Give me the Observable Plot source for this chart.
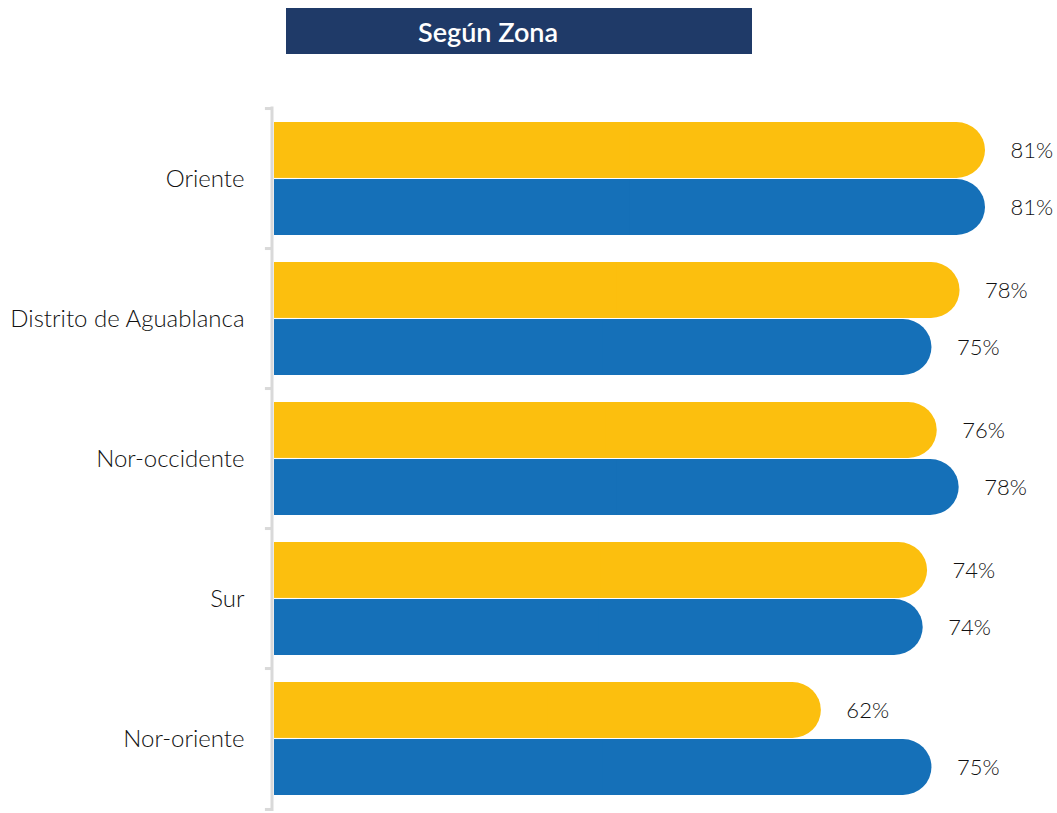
<!DOCTYPE html>
<html><head><meta charset="utf-8">
<script src="https://cdn.jsdelivr.net/npm/d3@7"></script>
<script src="https://cdn.jsdelivr.net/npm/@observablehq/plot@0.6"></script>
<style>
body{margin:0;background:#fff;font-family:Lato, sans-serif;}
#wrap{width:1057px;}
#head{position:relative;height:62px;}
#title{position:absolute;left:286px;top:8px;width:466px;height:46px;background:#1f3a68;color:#fff;font-weight:600;font-size:27px;line-height:47px;box-sizing:border-box;padding-left:132px;white-space:nowrap;}
</style></head><body><div id="wrap"><div id="head"><div id="title">Según Zona</div></div><div id="chart"></div></div>
<script>
const zonas = ["Oriente", "Distrito de Aguablanca", "Nor-occidente", "Sur", "Nor-oriente"];
const serieA = [81, 78.1, 75.5, 74.4, 62.3];
const serieB = [81, 74.9, 78, 73.9, 74.9];
const colorA = "#fcbf0e";
const colorB = "#1570b8";

const W = 1057, H = 751, mt = 44.5, mb = 2, ml = 274;
const n = zonas.length, pi = 0.19, po = 0.095;
const step = (H - mt - mb) / (n - pi + 2 * po);
const bw = step * (1 - pi);
const half = bw / 2;
const dataA = zonas.map((z, i) => ({zona: z, v: serieA[i]}));
const dataB = zonas.map((z, i) => ({zona: z, v: serieB[i]}));
const grid = "#d9d9d9";
const fmt = d => Math.round(d.v) + "%";

const chart = Plot.plot({
  width: W, height: H,
  marginTop: mt, marginBottom: mb, marginLeft: ml, marginRight: 0,
  x: {domain: [0, 89.2], axis: null},
  y: {domain: zonas, paddingInner: pi, paddingOuter: po, label: null},
  style: {fontFamily: "Lato, sans-serif", color: "#111", background: "#fff"},
  marks: [
    Plot.ruleX([0], {stroke: grid, strokeWidth: 3, dx: -2.5}),
    Plot.ruleY(zonas, {y: d => d, x1: -0.75, x2: 0, dx: -2.5, dy: -step / 2, stroke: grid, strokeWidth: 3}),
    Plot.ruleY([zonas[n - 1]], {y: d => d, x1: -0.75, x2: 0, dx: -2.5, dy: step / 2, stroke: grid, strokeWidth: 3}),
    Plot.barX(dataA, {y: "zona", x: "v", fill: colorA, insetBottom: half, rx: half / 2}),
    Plot.barX(dataA, {y: "zona", x1: 0, x2: d => d.v / 2, fill: colorA, insetBottom: half}),
    Plot.barX(dataB, {y: "zona", x: "v", fill: colorB, insetTop: half, rx: half / 2}),
    Plot.barX(dataB, {y: "zona", x1: 0, x2: d => d.v / 2, fill: colorB, insetTop: half}),
    Plot.text(dataA, {y: "zona", x: "v", text: fmt, dx: 25, dy: -half / 2, textAnchor: "start", fontSize: 22, fontWeight: 300, fill: "#111"}),
    Plot.text(dataB, {y: "zona", x: "v", text: fmt, dx: 25, dy: half / 2, textAnchor: "start", fontSize: 22, fontWeight: 300, fill: "#111"}),
    Plot.axisY({tickSize: 0, tickPadding: 30, fontSize: 24, fontWeight: 300, fill: "#111", label: null})
  ]
});
document.getElementById("chart").appendChild(chart);
</script>
</body></html>
